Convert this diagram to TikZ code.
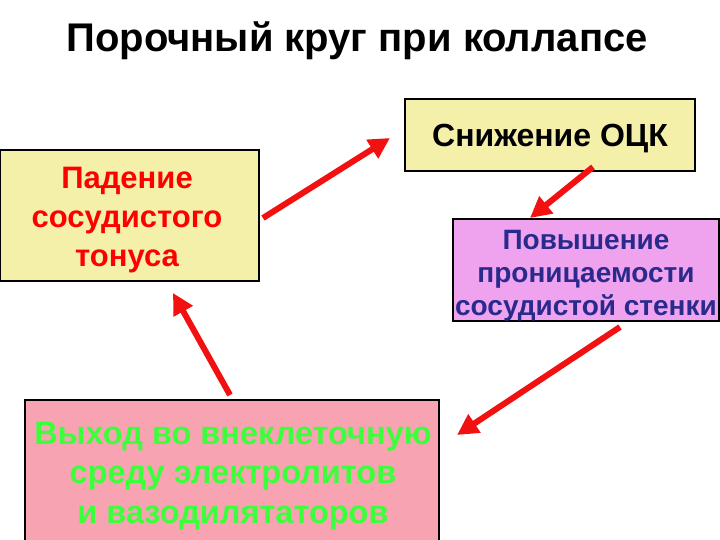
\documentclass[tikz,border=0pt]{standalone}
\usepackage{fontspec}
\setmainfont{Liberation Sans}
\usetikzlibrary{arrows.meta}
\definecolor{paleyellow}{HTML}{F4F0AA}
\definecolor{lilac}{HTML}{EFA3EF}
\definecolor{pinkbox}{HTML}{F8A3B2}
\definecolor{navytext}{HTML}{2A2A8C}
\definecolor{greentext}{HTML}{3CFF3C}
\definecolor{arrowred}{HTML}{F21010}
\tikzset{
  box/.style={draw=black, line width=1.2pt, rectangle, inner sep=0pt},
  boxtext/.style={inner sep=0pt, align=center},
  redarrow/.style={draw=arrowred, line width=6pt, -{Triangle[length=21pt,width=21pt]}},
}
\begin{document}
\begin{tikzpicture}[x=1pt,y=-1pt]
\useasboundingbox (0,0) rectangle (720,540);
\fill[white] (0,0) rectangle (720,540);
\node[anchor=base, font=\bfseries\fontsize{40}{48}\selectfont] (title) at (357,52) {Порочный круг при коллапсе};
% boxes
\node[box, fill=paleyellow, minimum width=259pt, minimum height=131pt] (fall) at (129.5,215.5) {};
\node[boxtext, text=red, font=\bfseries\fontsize{31}{39}\selectfont] (falltext) at (127,220) {Падение\\сосудистого\\тонуса};
\node[box, fill=paleyellow, minimum width=290pt, minimum height=72pt] (ock) at (550,135) {};
\node[boxtext, text=black, font=\bfseries\fontsize{32}{38}\selectfont] (ocktext) at (550,139) {Снижение ОЦК};
\node[box, fill=lilac, minimum width=266pt, minimum height=102pt] (perm) at (586,270) {};
\node[boxtext, text=navytext, font=\bfseries\fontsize{28}{33}\selectfont] (permtext) at (586,276) {Повышение\\проницаемости\\сосудистой стенки};
\node[box, fill=pinkbox, minimum width=414pt, minimum height=150pt] (exit) at (232,475) {};
\node[boxtext, text=greentext, font=\bfseries\fontsize{32.5}{39.5}\selectfont] (exittext) at (233,476) {Выход во внеклеточную\\среду электролитов\\и вазодилятаторов};
% arrow end points
\coordinate (a1s) at (263,218); \coordinate (a1e) at (390,138);
\coordinate (a2s) at (593,167); \coordinate (a2e) at (530,218);
\coordinate (a3s) at (620,327); \coordinate (a3e) at (457,435);
\coordinate (a4s) at (230,395); \coordinate (a4e) at (173,293);
\draw[redarrow] (a1s) -- (a1e);
\draw[redarrow] (a2s) -- (a2e);
\draw[redarrow] (a3s) -- (a3e);
\draw[redarrow] (a4s) -- (a4e);
\end{tikzpicture}
\end{document}
